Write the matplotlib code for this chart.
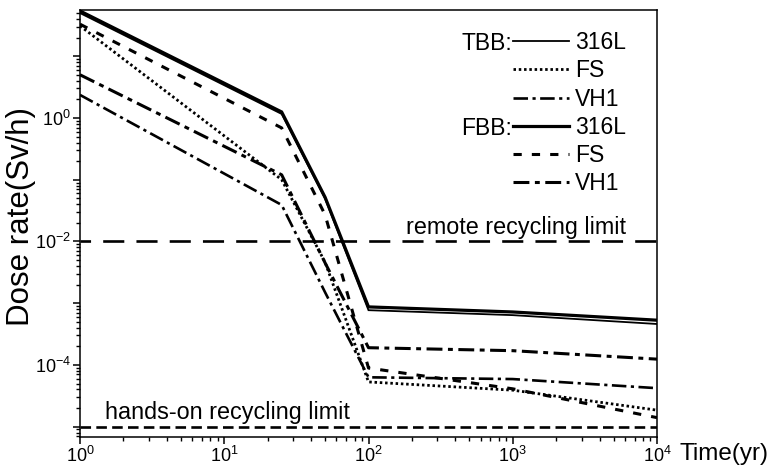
import numpy as np
import matplotlib
matplotlib.use("Agg")
import matplotlib.pyplot as plt
from matplotlib.ticker import LogLocator, FuncFormatter, NullFormatter
from matplotlib.lines import Line2D
from matplotlib import font_manager as fm

# ---------------- data ----------------
time_yr = [1, 25, 50, 100, 1000, 10000]
tbb_316l = [50, 1.16, 0.049, 7.7e-4, 6.4e-4, 4.6e-4]
tbb_fs = [31, 0.10, 0.0046, 5.3e-5, 3.9e-5, 1.85e-5]
tbb_vh1 = [2.36, 0.039, 0.0015, 6.3e-5, 5.9e-5, 4.2e-5]
fbb_316l = [54, 1.25, 0.052, 8.7e-4, 7.2e-4, 5.3e-4]
fbb_fs = [33, 0.69, 0.027, 8.9e-5, 4.1e-5, 1.4e-5]
fbb_vh1 = [5.0, 0.12, 0.0045, 1.9e-4, 1.7e-4, 1.24e-4]
remote_limit = 1e-2
hands_on_limit = 1e-5
series_labels = ["316L", "FS", "VH1", "316L", "FS", "VH1"]
group_labels = ["TBB:", "FBB:"]
x_lim = (1, 1e4)
y_lim = (6.8e-6, 56)
y_labelled_exponents = [0, -2, -4]

plt.rcParams["font.family"] = ["Liberation Sans", "DejaVu Sans"]
plt.rcParams["mathtext.fontset"] = "custom"
plt.rcParams["mathtext.rm"] = "Liberation Sans"
plt.rcParams["mathtext.it"] = "Liberation Sans:italic"

names = {f.name for f in fm.fontManager.ttflist}
tick_family = "Liberation Sans Narrow" if "Liberation Sans Narrow" in names else "Liberation Sans"

W, H = 770, 474
fig = plt.figure(figsize=(W / 100, H / 100), dpi=100)
L, R, T, B = 80, 657, 10, 437
ax = fig.add_axes([L / W, 1 - B / H, (R - L) / W, (B - T) / H])

k = "black"
styles = [
    dict(lw=1.3, solid_joinstyle="miter"),
    dict(lw=2.0, linestyle=(0, (0.9, 1.0))),
    dict(lw=1.9, linestyle=(0, (5.5, 1.7, 1.2, 1.7))),
    dict(lw=2.3, solid_joinstyle="miter"),
    dict(lw=2.2, linestyle=(0, (2.7, 3.3))),
    dict(lw=2.2, linestyle=(0, (5.2, 1.8, 1.6, 1.8))),
]
all_series = [tbb_316l, tbb_fs, tbb_vh1, fbb_316l, fbb_fs, fbb_vh1]
for ys, st in zip(all_series, styles):
    ax.plot(time_yr, ys, color=k, **st)

ax.axhline(remote_limit, color=k, lw=1.9, linestyle=(4, (8, 4.6)))
ax.axhline(hands_on_limit, color=k, lw=1.9, linestyle=(0, (4, 2)))

ax.text(181, remote_limit * 1.08, "remote recycling limit", fontsize=16.8,
        ha="left", va="bottom")
ax.text(1.49, hands_on_limit * 1.12, "hands-on recycling limit", fontsize=16.8,
        ha="left", va="bottom")

ax.set_xscale("log")
ax.set_yscale("log")
ax.set_xlim(*x_lim)
ax.set_ylim(*y_lim)

ax.xaxis.set_major_locator(LogLocator(base=10, numticks=10))
ax.xaxis.set_minor_locator(LogLocator(base=10, subs=np.arange(2, 10), numticks=20))
ax.xaxis.set_minor_formatter(NullFormatter())
ax.yaxis.set_major_locator(LogLocator(base=10, numticks=20))
ax.yaxis.set_minor_locator(LogLocator(base=10, subs=np.arange(2, 10), numticks=40))
ax.yaxis.set_minor_formatter(NullFormatter())


def xfmt(v, pos):
    e = int(round(np.log10(v)))
    return r"$10^{%d}$" % e


def yfmt(v, pos):
    e = int(round(np.log10(v)))
    if e in y_labelled_exponents:
        return r"$10^{%d}$" % e
    return ""


ax.xaxis.set_major_formatter(FuncFormatter(xfmt))
ax.yaxis.set_major_formatter(FuncFormatter(yfmt))
ax.tick_params(which="major", direction="out", length=5, width=1.1, labelsize=13, pad=1.5)
ax.tick_params(which="minor", direction="out", length=2.8, width=1.0)
for lab in ax.get_xticklabels() + ax.get_yticklabels():
    lab.set_family(tick_family)
for s in ax.spines.values():
    s.set_linewidth(1.1)

ax.set_ylabel("Dose rate(Sv/h)", fontsize=22.5, va="center")
ax.yaxis.set_label_coords((21 - L) / (R - L), (B - 216) / (B - T))
fig.text(680 / W, 1 - 460 / H, "Time(yr)", fontsize=17.5, ha="left", va="baseline")

# legend
handles = [Line2D([], [], color=k, **st) for st in styles]
fs_leg = 16.5
leg = ax.legend(handles, series_labels, loc="upper left",
                bbox_to_anchor=((513 - L) / (R - L), (B - 31) / (B - T)),
                frameon=False, fontsize=fs_leg, handlelength=2.45,
                handletextpad=0.25, labelspacing=0.23, borderpad=0,
                borderaxespad=0)

fig.canvas.draw()
r = fig.canvas.get_renderer()
lhs = leg.legend_handles
for gi, idx in enumerate([0, 3]):
    bb = lhs[idx].get_window_extent(r)
    yc = (bb.y0 + bb.y1) / 2
    fig.text((bb.x0 - 1) / W, yc / H, group_labels[gi], fontsize=fs_leg,
             ha="right", va="center_baseline")

fig.savefig("out.png", dpi=100)
